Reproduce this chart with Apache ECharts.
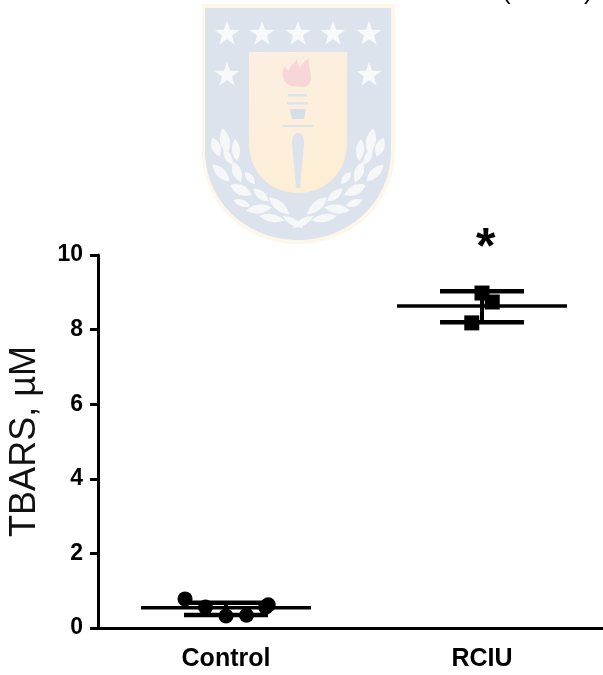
<!DOCTYPE html>
<html><head><meta charset="utf-8">
<style>html,body{margin:0;padding:0;background:#fff}#c{width:603px;height:675px}</style>
<script src="https://cdn.jsdelivr.net/npm/echarts@6/dist/echarts.min.js"></script>
</head><body><div id="c"></div>
<script>
const categories = ['Control', 'RCIU'];
const yTicks = [0, 2, 4, 6, 8, 10];
const yTitle = 'TBARS, \u00B5M';
const controlPoints = [[0.34, 0.78], [0.42, 0.56], [0.5, 0.32], [0.58, 0.34], [0.655, 0.56], [0.665, 0.62]];
const rciuPoints = [[1.5, 8.98], [1.54, 8.74], [1.46, 8.18]];
const groupCenters = [0.5, 1.5];
const groupMeans = [0.54, 8.63];
const groupLow = [0.35, 8.2];
const groupHigh = [0.68, 9.03];
const meanHalfWidth = 0.332;
const sdHalfWidth = 0.164;

const summary = groupCenters.map((c, i) => [c, groupMeans[i], groupLow[i], groupHigh[i]]);

// Watermark crest (decorative background)
const crestGraphics = [];
function star(cx, cy, r) {
  const pts = [];
  for (let i = 0; i < 10; i++) {
    const rad = i % 2 ? r * 0.4 : r;
    const a = -Math.PI / 2 + i * Math.PI / 5;
    pts.push([cx + rad * Math.cos(a), cy + rad * Math.sin(a)]);
  }
  crestGraphics.push({ type: 'polygon', shape: { points: pts }, style: { fill: '#f8f9fb' } });
}
function shape(d, fill) {
  crestGraphics.push({ type: 'path', shape: { pathData: d }, style: { fill } });
}
function leaf(cx, cy, len, wid, angDeg, fill) {
  const a = angDeg * Math.PI / 180, c = Math.cos(a), s = Math.sin(a);
  const P = (u, v) => (cx + u * c - v * s).toFixed(1) + ' ' + (cy + u * s + v * c).toFixed(1);
  shape(`M${P(-len/2,0)} Q${P(0,-wid)} ${P(len/2,0)} Q${P(0,wid)} ${P(-len/2,0)} Z`, fill || '#f6f7f9');
}
shape('M202 4 L395 4 L395 150 C395 205 350 244 298 244 C246 244 202 205 202 150 Z', '#fdf6e9');
shape('M205 8 L391 8 L391 150 C391 203 348 240 298 240 C248 240 205 203 205 150 Z', '#dde3ec');
shape('M249 52 L347 52 L347 143 C347 172 326 193 298 193 C270 193 249 172 249 143 Z',
  new echarts.graphic.LinearGradient(0, 0, 1, 1, [{ offset: 0, color: '#fcefe3' }, { offset: 1, color: '#fdeed2' }]));
[227, 262, 298, 333, 369].forEach(x => star(x, 34, 13));
star(227, 75, 13); star(369, 75, 13);
// torch
shape('M291 86 C281 82 281 72 285 66 C287 70 288 71 289 70 C290 66 294 63 297 59 C297 64 299 67 301 67 C302 63 306 60 309 58 C308 64 311 72 311 78 C311 83 308 86 305 87 Z', '#f8d6d8');
crestGraphics.push({ type: 'rect', shape: { x: 288, y: 94, width: 19, height: 2.5 }, style: { fill: '#dde3ec' } });
crestGraphics.push({ type: 'rect', shape: { x: 287, y: 102, width: 21, height: 2.5 }, style: { fill: '#dde3ec' } });
shape('M290 109 L306 109 L304 119 L292 119 Z', '#d6deea');
crestGraphics.push({ type: 'rect', shape: { x: 283, y: 125, width: 30, height: 2 }, style: { fill: '#dde3ec' } });
shape('M298 133 C303 133 304 138 304 143 L300 188 L296 188 L292 143 C292 138 293 133 298 133 Z', '#dde3ec');
// laurel: each [x, y, length, halfWidth, angle] on the left; mirrored to the right
[[225, 141, 26, 10, 80], [236, 150, 22, 8, 85], [216, 147, 20, 9, 70], [228, 157, 18, 7, 60],
 [221, 173, 24, 9, 45], [237, 172, 22, 9, 70], [250, 178, 16, 7, 50], [241, 190, 24, 10, 25],
 [261, 195, 20, 8, 40], [242, 203, 18, 7, 20], [259, 209, 26, 9, -8], [279, 206, 26, 9, 40],
 [272, 218, 26, 8, 10], [293, 222, 24, 7, 30]].forEach(l => {
  leaf(l[0], l[1], l[2], l[3], l[4]);
  leaf(596 - l[0], l[1], l[2], l[3], 180 - l[4]);
});

const chart = echarts.init(document.getElementById('c'), null, { renderer: 'canvas' });
chart.setOption({
  animation: false,
  backgroundColor: '#fff',
  grid: { left: 98, right: -7, top: 255, bottom: 47, containLabel: false, outerBoundsMode: 'none' },
  graphic: { elements: [
    { type: 'text', silent: true, left: 476, top: 224, style: { text: '*', font: 'bold 50px "Liberation Sans"', fill: '#000' } },
    { type: 'text', silent: true, left: 502, top: -21, style: { text: '(', font: '26px "Liberation Sans"', fill: '#000' } },
    { type: 'text', silent: true, left: 584, top: -21, style: { text: ')', font: '26px "Liberation Sans"', fill: '#000' } }
  ] },
  xAxis: [
    { type: 'category', data: categories, position: 'bottom',
      axisLine: { lineStyle: { color: '#000', width: 3 } },
      axisTick: { alignWithLabel: true, length: 10, lineStyle: { color: '#000', width: 3 } },
      axisLabel: { color: '#000', fontFamily: 'Liberation Sans', fontWeight: 'bold', fontSize: 25, margin: 19 } },
    { type: 'value', min: 0, max: 2, show: false }
  ],
  yAxis: {
    type: 'value', min: yTicks[0], max: yTicks[yTicks.length - 1], interval: 2,
    name: yTitle, nameLocation: 'middle', nameGap: 55, nameRotate: 90,
    nameTextStyle: { color: '#111', fontFamily: 'Liberation Sans', fontSize: 36 },
    axisLine: { show: true, lineStyle: { color: '#000', width: 3 } },
    axisTick: { show: true, length: 8, lineStyle: { color: '#000', width: 3 } },
    axisLabel: { color: '#000', fontFamily: 'Liberation Sans', fontWeight: 'bold', fontSize: 23, margin: 15 },
    splitLine: { show: false }
  },
  series: [
    { type: 'custom', coordinateSystem: 'none', data: [[0]], silent: true, z: 0, clip: false,
      renderItem() { return { type: 'group', children: crestGraphics }; } },
    { type: 'custom', xAxisIndex: 1, yAxisIndex: 0, data: summary, z: 3, clip: false,
      renderItem(params, api) {
        const c = api.value(0);
        const seg = (x0, y0, x1, y1, w) => {
          const a = api.coord([x0, y0]), b = api.coord([x1, y1]);
          return { type: 'line', shape: { x1: a[0], y1: a[1], x2: b[0], y2: b[1] }, style: { stroke: '#000', lineWidth: w } };
        };
        return { type: 'group', children: [
          seg(c - meanHalfWidth, api.value(1), c + meanHalfWidth, api.value(1), 3.5),
          seg(c - sdHalfWidth, api.value(2), c + sdHalfWidth, api.value(2), 4.5),
          seg(c - sdHalfWidth, api.value(3), c + sdHalfWidth, api.value(3), 4.5),
          seg(c, api.value(2), c, api.value(3), 4)
        ] };
      } },
    { type: 'scatter', xAxisIndex: 1, yAxisIndex: 0, data: controlPoints, symbol: 'circle', symbolSize: 15,
      itemStyle: { color: '#000', opacity: 1 }, z: 4 },
    { type: 'scatter', xAxisIndex: 1, yAxisIndex: 0, data: rciuPoints, symbol: 'rect', symbolSize: 15,
      itemStyle: { color: '#000', opacity: 1 }, z: 4 }
  ]
});
</script></body></html>
